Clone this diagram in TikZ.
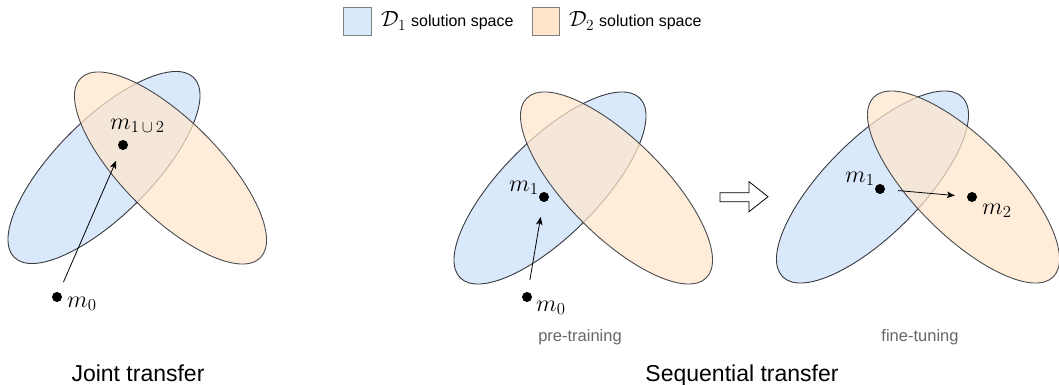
\RequirePackage{fix-cm}
\documentclass[tikz,border=0pt]{standalone}
\usepackage{fontspec}
\setmainfont{Liberation Sans}
\usetikzlibrary{arrows.meta}
\definecolor{bluefill}{HTML}{DAE8FC}
\definecolor{orangefill}{HTML}{FFE6CC}
\definecolor{edgegray}{HTML}{36393D}
\definecolor{captiongray}{HTML}{666666}
\begin{document}
\begin{tikzpicture}[x=1pt,y=-1pt,
  blueell/.style={draw=edgegray,line width=0.9pt,fill=bluefill},
  orangeell/.style={draw=edgegray,line width=0.9pt,fill=orangefill,fill opacity=0.72,draw opacity=0.9},
  pointdot/.style={circle,fill=black,inner sep=0pt,minimum size=10pt},
  mlabel/.style={inner sep=0pt,anchor=base west,font=\fontsize{24}{28}\selectfont},
  movearrow/.style={-{Stealth[length=8pt,width=6.5pt,inset=2pt]},line width=0.8pt},
  stagecap/.style={text=captiongray,font=\fontsize{16.5}{20}\selectfont,inner sep=0pt},
  groupcap/.style={font=\fontsize{23}{27}\selectfont,inner sep=0pt,anchor=base},
  legbox/.style={draw=gray,line width=0.8pt},
  legtext/.style={inner sep=0pt,anchor=base west,font=\fontsize{16}{19}\selectfont}
]
\useasboundingbox (0,0) rectangle (1059,385);

% legend
\filldraw[legbox,fill=bluefill] (343,7) rectangle (371,35);
\node[legtext] (leg1) at (381,27) {{\fontsize{22}{26}\selectfont$\mathcal{D}_1$}\hspace{5pt}solution space};
\filldraw[legbox,fill=orangefill] (532,7) rectangle (559,35);
\node[legtext] (leg2) at (569,27) {{\fontsize{22}{26}\selectfont$\mathcal{D}_2$}\hspace{5pt}solution space};

% left group: joint transfer
\draw[blueell,rotate around={45:(104,167.5)}] (104,167.5) ellipse [x radius=127pt,y radius=48pt];
\draw[orangeell,rotate around={-45:(170.5,168)}] (170.5,168) ellipse [x radius=127pt,y radius=48pt];
\node[pointdot] (j12) at (123,145) {};
\node[pointdot] (j0) at (57,297) {};
\node[mlabel] (j12l) at (110,129) {$m_{1\,\cup\,2}$};
\node[mlabel] (j0l) at (67,307) {$m_0$};
\draw[movearrow,shorten <=11pt,shorten >=12pt] (j0) -- (j12);
\node[groupcap] (jcap) at (138,381.5) {Joint transfer};

% middle group: pre-training
\draw[blueell,rotate around={45:(550,188)}] (550,188) ellipse [x radius=127pt,y radius=48pt];
\draw[orangeell,rotate around={-45:(616.5,188)}] (616.5,188) ellipse [x radius=127pt,y radius=48pt];
\node[pointdot] (p1) at (544,197) {};
\node[pointdot] (p0) at (527,297) {};
\node[mlabel] (p1l) at (509,191) {$m_1$};
\node[mlabel] (p0l) at (536,311) {$m_0$};
\draw[movearrow,shorten <=12pt,shorten >=15pt] (p0) -- (p1);
\node[stagecap] (pcap) at (580,337) {pre-training};

% hollow arrow
\draw[line width=0.8pt,fill=white] (720,192.7) -- (749,192.7) -- (749,181.7) -- (768,196.7)
  -- (749,211.7) -- (749,201.7) -- (720,201.7) -- cycle;

% right group: fine-tuning
\draw[blueell,rotate around={45:(872.5,187)}] (872.5,187) ellipse [x radius=127pt,y radius=48pt];
\draw[orangeell,rotate around={-45:(963.5,187)}] (963.5,187) ellipse [x radius=127pt,y radius=48pt];
\node[pointdot] (f1) at (880,189) {};
\node[pointdot] (f2) at (972,197) {};
\node[mlabel] (f1l) at (845,182) {$m_1$};
\node[mlabel] (f2l) at (982,214) {$m_2$};
\draw[movearrow,shorten <=13pt,shorten >=12pt] (f1) -- (f2);
\node[stagecap] (fcap) at (920,337) {fine-tuning};

\node[groupcap] (scap) at (742,381.5) {Sequential transfer};
\end{tikzpicture}
\end{document}
